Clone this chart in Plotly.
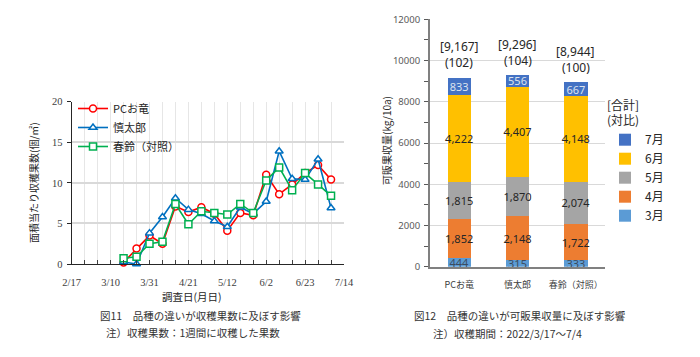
import plotly.graph_objects as go

# ---------------- Data: Fig.11 (weekly harvested fruit count) ----------------
dates = ["2022-03-17", "2022-03-24", "2022-03-31", "2022-04-07", "2022-04-14",
         "2022-04-21", "2022-04-28", "2022-05-05", "2022-05-12", "2022-05-19",
         "2022-05-26", "2022-06-02", "2022-06-09", "2022-06-16", "2022-06-23",
         "2022-06-30", "2022-07-07"]
pc_oryu = [0.2, 1.9, 3.5, 2.5, 7.1, 6.4, 7.0, 6.2, 4.1, 6.3, 6.0, 11.0, 8.6, 9.8, 11.2, 12.2, 10.4]
shintaro = [0.25, 0.0, 3.8, 5.8, 8.1, 6.7, 6.2, 5.3, 4.6, 7.0, 6.2, 7.7, 13.9, 10.5, 10.4, 12.9, 6.9]
shunrei = [0.7, 0.9, 2.5, 2.75, 7.4, 4.9, 6.5, 6.3, 6.1, 7.4, 6.3, 10.3, 11.9, 9.1, 11.2, 9.8, 8.4]
x_tick_vals = ["2022-02-17", "2022-03-10", "2022-03-31", "2022-04-21", "2022-05-12",
               "2022-06-02", "2022-06-23", "2022-07-14"]
x_tick_text = ["2/17", "3/10", "3/31", "4/21", "5/12", "6/2", "6/23", "7/14"]

# ---------------- Data: Fig.12 (marketable yield by month) ----------------
varieties = ["PCお竜", "慎太郎", "春鈴（対照）"]
months = ["3月", "4月", "5月", "6月", "7月"]
yield_mar = [444, 315, 333]
yield_apr = [1852, 2148, 1722]
yield_may = [1815, 1870, 2074]
yield_jun = [4222, 4407, 4148]
yield_jul = [833, 556, 667]
totals = [9167, 9296, 8944]
ratios = [102, 104, 100]

W, H = 700, 357
OFF = 8  # page body margin offset
CJK = "Noto Sans CJK JP"


def paper_x(px):
    return (px - OFF) / W


def paper_y(py):
    return 1 - (py - OFF) / H


fig = go.Figure()

# ----- Left chart lines -----
line_specs = [
    ("PCお竜", pc_oryu, "#FF0000", "circle"),
    ("慎太郎", shintaro, "#0070C0", "triangle-up"),
    ("春鈴（対照）", shunrei, "#00B050", "square"),
]
for name, vals, col, sym in line_specs:
    fig.add_trace(go.Scatter(
        x=dates, y=vals, name=name, mode="lines+markers",
        line=dict(color=col, width=1.6),
        marker=dict(symbol=sym, size=7, color="white", line=dict(color=col, width=1.5)),
        xaxis="x", yaxis="y", legend="legend", cliponaxis=False,
    ))

# ----- Right chart bars -----
bar_specs = [
    ("3月", yield_mar, "#5B9BD5", "#3B4B5E"),
    ("4月", yield_apr, "#ED7D31", "#262626"),
    ("5月", yield_may, "#A5A5A5", "#262626"),
    ("6月", yield_jun, "#FFC000", "#262626"),
    ("7月", yield_jul, "#4472C4", "#DCE3EE"),
]
for name, vals, col, tcol in bar_specs:
    fig.add_trace(go.Bar(
        x=varieties, y=vals, name=name, marker=dict(color=col, line=dict(width=0)),
        text=[f"{v:,}" for v in vals], textposition="inside", insidetextanchor="middle",
        constraintext="none", textangle=0,
        textfont=dict(family="Noto Sans", size=11, color=tcol),
        xaxis="x2", yaxis="y2", legend="legend2", cliponaxis=False,
    ))

annotations = []
for v, t, r in zip(varieties, totals, ratios):
    annotations.append(dict(x=v, y=t, xref="x2", yref="y2", text=f"[{t:,}]",
                            showarrow=False, yshift=31, yanchor="middle",
                            font=dict(family="Noto Sans", size=12, color="#262626")))
    annotations.append(dict(x=v, y=t, xref="x2", yref="y2", text=f"({r})",
                            showarrow=False, yshift=15, yanchor="middle",
                            font=dict(family="Noto Sans", size=12, color="#262626")))


def txt(x, y, s, size=10.5, color="#333333", xanchor="center", angle=0):
    annotations.append(dict(x=paper_x(x), y=paper_y(y), xref="paper", yref="paper", text=s,
                            showarrow=False, xanchor=xanchor, yanchor="middle",
                            textangle=angle,
                            font=dict(family=CJK, size=size, color=color)))


# axis titles & captions
txt(33, 183, "面積当たり収穫果数(個/㎡)", size=10, color="#262626", angle=-90)
txt(192, 296, "調査日(月日)", size=10.5, color="#262626")
txt(200, 315, "図11　品種の違いが収穫果数に及ぼす影響", size=10.5)
txt(193, 332, "注）収穫果数：1週間に収穫した果数", size=10.5)
txt(386, 141, "可販果収量(kg/10a)", size=10, color="#262626", angle=-90)
txt(520, 315, "図12　品種の違いが可販果収量に及ぼす影響", size=10.5)
txt(507, 333, "注）収穫期間：2022/3/17～7/4", size=10.5)

fig.update_layout(
    width=W, height=H, margin=dict(l=0, r=0, t=0, b=0, autoexpand=False),
    paper_bgcolor="white", plot_bgcolor="white",
    barmode="stack", bargap=0.6,
    font=dict(family=CJK, color="#404040"),
    annotations=annotations,
    xaxis=dict(
        domain=[paper_x(71.7), paper_x(344)], type="date", automargin=False,
        range=["2022-02-17", "2022-07-14"],
        tickvals=x_tick_vals, ticktext=x_tick_text,
        tickfont=dict(family="Liberation Serif", size=10.5, color="#404040"),
        showgrid=True, gridcolor="#E6E6E6", gridwidth=1,
        ticks="inside", ticklen=4, tickcolor="#404040", ticklabelstandoff=8,
        minor=dict(dtick=7 * 86400000, tick0="2022-02-17", showgrid=True,
                   gridcolor="#E6E6E6", ticks="inside", ticklen=4, tickcolor="#404040"),
        showline=True, linecolor="#262626", linewidth=1.3,
        zeroline=False, fixedrange=True, anchor="y",
    ),
    yaxis=dict(
        domain=[paper_y(264), paper_y(101.7)], range=[0, 20], dtick=5, automargin=False,
        tickfont=dict(family="Liberation Serif", size=10.5, color="#404040"),
        showgrid=True, gridcolor="#D9D9D9", gridwidth=1.5,
        ticks="outside", ticklen=4, tickcolor="#262626", ticklabelstandoff=2,
        showline=True, linecolor="#262626", linewidth=1.3,
        zeroline=False, anchor="x",
    ),
    xaxis2=dict(
        domain=[paper_x(430), paper_x(605)], anchor="y2", automargin=False,
        tickfont=dict(family=CJK, size=9, color="#404040"),
        showline=True, linecolor="#808080", linewidth=2, ticks="",
        ticklabelstandoff=8,
    ),
    yaxis2=dict(
        domain=[paper_y(266.7), paper_y(19.3)], range=[0, 12000], dtick=2000,
        tickformat="d", automargin=False,
        tickfont=dict(family="Noto Sans", size=9.5, color="#595959"),
        showgrid=True, gridcolor="#D9D9D9", gridwidth=1,
        ticks="outside", ticklen=4, tickcolor="#595959", ticklabelstandoff=2,
        minor=dict(dtick=1000, ticks="outside", ticklen=4, tickcolor="#595959"),
        showline=True, linecolor="#808080", linewidth=2,
        zeroline=False, anchor="x2",
    ),
    legend=dict(
        x=paper_x(73), y=paper_y(94), xanchor="left", yanchor="top",
        bgcolor="rgba(0,0,0,0)", font=dict(family=CJK, size=11, color="#262626"),
        itemwidth=30, tracegroupgap=0,
    ),
    legend2=dict(
        x=paper_x(605), y=paper_y(94), xanchor="left", yanchor="top",
        title=dict(text="[合計]<br>(対比)", font=dict(family=CJK, size=12, color="#262626")),
        traceorder="reversed",
        bgcolor="rgba(0,0,0,0)", font=dict(family=CJK, size=12, color="#262626"),
        itemwidth=30,
    ),
)

fig.write_html("out.html")
